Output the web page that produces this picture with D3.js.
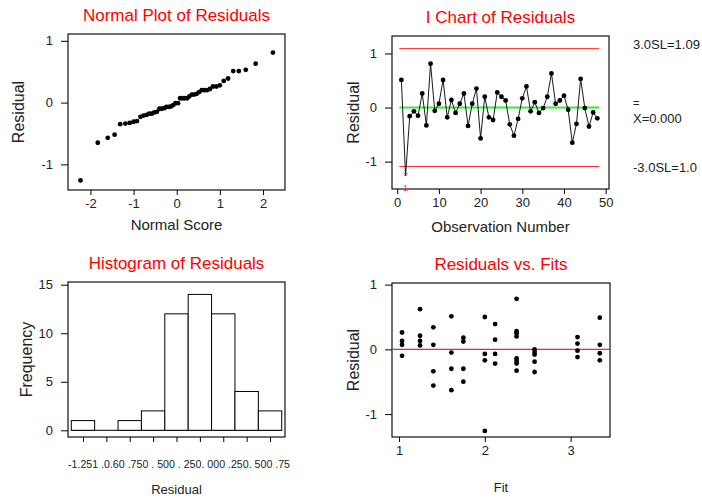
<!DOCTYPE html>
<head>
    <meta charset="utf-8">
    <title>Residual Plots</title>
    <script src='https://cdn.jsdelivr.net/npm/d3@7/dist/d3.min.js' charset="utf-8"></script>
</head>
<style>
    body { margin: 0; background: #fff; }
    svg { font-family: 'Liberation Sans', Arial, sans-serif; }
    .title { fill: #ff0000; font-size: 17px; text-anchor: middle; }
    .tick line { stroke: #000; }
    .tick text { font-size: 13px; fill: #222; }
    .domain { display: none; }
</style>
<body>
    <svg width="702" height="500"></svg>
</body>

<script>
    // residuals in observation order (I chart)
    var obsResiduals = [0.51, -1.26, -0.16, -0.07, -0.15, 0.26, -0.33, 0.81, -0.06, 0.07,
        0.51, -0.18, 0.14, -0.10, 0.07, 0.26, -0.34, 0.07, 0.35, -0.57,
        0.20, -0.18, -0.23, 0.28, 0.20, 0.13, -0.31, -0.52, -0.21, 0.17,
        0.39, -0.07, 0.10, -0.10, -0.01, 0.20, 0.63, 0.07, 0.13, 0.22,
        -0.04, -0.65, -0.30, 0.53, -0.01, -0.35, -0.09, -0.20];
    var flaggedObs = [2];

    // normal scores for the 48 ranks
    var normalScores = [-2.23, -1.83, -1.60, -1.44, -1.31, -1.19, -1.09, -1.00, -0.92, -0.84,
        -0.77, -0.70, -0.64, -0.58, -0.52, -0.46, -0.40, -0.35, -0.29, -0.24,
        -0.18, -0.13, -0.08, -0.03, 0.03, 0.08, 0.13, 0.18, 0.24, 0.29,
        0.35, 0.40, 0.46, 0.52, 0.58, 0.64, 0.70, 0.77, 0.84, 0.92,
        1.00, 1.09, 1.19, 1.31, 1.44, 1.60, 1.83, 2.23];

    // histogram
    var binMids = [-1.25, -1.00, -0.75, -0.50, -0.25, 0.00, 0.25, 0.50, 0.75];
    var binCounts = [1, 0, 1, 2, 12, 14, 12, 4, 2];
    var binWidth = 0.25;
    var histTickText = '-1.251 .0.60 .750 . 500 . 250. 000 .250. 500 .75';

    // residuals vs fits
    var fitValues = [1.035, 1.035, 1.035, 1.035,
        1.245, 1.245, 1.245, 1.245,
        1.40, 1.40, 1.40, 1.40,
        1.61, 1.61, 1.61, 1.61,
        1.75, 1.75, 1.75, 1.75,
        2.00, 2.00, 2.00, 2.00,
        2.12, 2.12, 2.12, 2.12,
        2.37, 2.37, 2.37, 2.37, 2.37, 2.37, 2.37, 2.37,
        2.58, 2.58, 2.58, 2.58, 2.58,
        3.08, 3.08, 3.08, 3.08,
        3.34, 3.34, 3.34, 3.34];
    var fitResiduals = [0.26, 0.13, 0.07, -0.10,
        0.62, 0.21, 0.13, 0.06,
        0.34, 0.07, -0.34, -0.56,
        0.51, -0.05, -0.30, -0.63,
        0.18, 0.12, -0.30, -0.50,
        0.50, -0.07, -0.17, -1.26,
        0.39, 0.15, -0.07, -0.22,
        0.78, 0.28, 0.25, 0.20, -0.14, -0.18, -0.22, -0.33,
        0.00, -0.04, -0.08, -0.19, -0.35,
        0.19, 0.09, -0.02, -0.12,
        0.49, 0.07, -0.06, -0.17];

    // control limits
    var ucl = 1.09, centre = 0.0, lcl = -1.09;
    var limitLabels = ['3.0SL=1.09', '=', 'X=0.000', '-3.0SL=1.0'];

    var svg = d3.select('svg');
    var plain = function (d) { return String(d); };   // hyphen minus, like the original

    // one framed panel with its axes and labels
    function panel(p) {
        var x = d3.scaleLinear().domain(p.xDomain).range([p.left, p.right]);
        var y = d3.scaleLinear().domain(p.yDomain).range([p.bottom, p.top]);
        var g = svg.append('g');

        g.append('text').attr('class', 'title')
            .attr('x', (p.left + p.right) / 2).attr('y', p.top - 13)
            .text(p.title);

        g.append('g').attr('transform', 'translate(0,' + p.bottom + ')')
            .call(d3.axisBottom(x).tickValues(p.xTicks).tickSize(5).tickPadding(4)
                .tickFormat(p.xFormat || plain));
        g.append('g').attr('transform', 'translate(' + p.left + ',0)')
            .call(d3.axisLeft(y).tickValues(p.yTicks).tickSize(7).tickPadding(8)
                .tickFormat(plain));

        g.append('rect')
            .attr('x', p.left).attr('y', p.top)
            .attr('width', p.right - p.left).attr('height', p.bottom - p.top)
            .attr('fill', 'none').attr('stroke', '#111').attr('stroke-width', 1.2);

        g.append('text')
            .attr('x', (p.left + p.right) / 2).attr('y', p.xLabelY)
            .attr('text-anchor', 'middle').attr('font-size', p.xLabelSize).attr('fill', '#222')
            .text(p.xLabel);
        g.append('text')
            .attr('transform', 'translate(' + p.yLabelX + ',' + (p.top + p.bottom) / 2 + ') rotate(-90)')
            .attr('text-anchor', 'middle').attr('font-size', 16).attr('fill', '#222')
            .text(p.yLabel);

        return {g: g, x: x, y: y};
    }

    // Normal plot
    var sorted = d3.sort(obsResiduals);
    var p1 = panel({left: 68, right: 285, top: 34, bottom: 190,
        xDomain: [-2.52, 2.51], yDomain: [-1.415, 1.11],
        xTicks: [-2, -1, 0, 1, 2], yTicks: [-1, 0, 1],
        title: 'Normal Plot of Residuals', xLabel: 'Normal Score', yLabel: 'Residual',
        xLabelY: 230, xLabelSize: 15, yLabelX: 24});
    p1.g.selectAll('circle').data(sorted).enter().append('circle')
        .attr('cx', function (d, i) { return p1.x(normalScores[i]); })
        .attr('cy', function (d) { return p1.y(d); })
        .attr('r', 2.4).attr('fill', '#000');

    // I chart
    var p2 = panel({left: 392, right: 609, top: 36, bottom: 189,
        xDomain: [-1.25, 50.8], yDomain: [-1.506, 1.323],
        xTicks: [0, 10, 20, 30, 40, 50], yTicks: [-1, 0, 1],
        title: 'I Chart of Residuals', xLabel: 'Observation Number', yLabel: 'Residual',
        xLabelY: 232, xLabelSize: 15, yLabelX: 359});
    [[ucl, '#ff3030', 1], [lcl, '#ff3030', 1], [centre, '#33ee33', 2]].forEach(function (l) {
        p2.g.append('line')
            .attr('x1', p2.x(0.5)).attr('x2', p2.x(48.5))
            .attr('y1', p2.y(l[0])).attr('y2', p2.y(l[0]))
            .attr('stroke', l[1]).attr('stroke-width', l[2]);
    });
    var obsPts = obsResiduals.map(function (d, i) { return {obs: i + 1, v: d}; });
    p2.g.append('path').datum(obsPts)
        .attr('fill', 'none').attr('stroke', '#000').attr('stroke-width', 0.9)
        .attr('d', d3.line().x(function (d) { return p2.x(d.obs); }).y(function (d) { return p2.y(d.v); }));
    p2.g.selectAll('circle')
        .data(obsPts.filter(function (d) { return flaggedObs.indexOf(d.obs) < 0; }))
        .enter().append('circle')
        .attr('cx', function (d) { return p2.x(d.obs); })
        .attr('cy', function (d) { return p2.y(d.v); })
        .attr('r', 2.4).attr('fill', '#000');
    flaggedObs.forEach(function (o) {
        var v = obsResiduals[o - 1];
        p2.g.append('text').attr('x', p2.x(o)).attr('y', p2.y(v) + 4.5)
            .attr('text-anchor', 'middle').attr('font-size', 11).attr('fill', '#ff0000').text('*');
        p2.g.append('text').attr('x', p2.x(o)).attr('y', p2.y(v) + 15)
            .attr('text-anchor', 'middle').attr('font-size', 9).attr('fill', '#ff4040').text('1');
    });
    var limY = [p2.y(ucl) - 4.5, p2.y(centre) - 4, p2.y(centre) + 10.5, p2.y(lcl) + 0.5];
    var limSize = [13, 11, 13, 13];
    limitLabels.forEach(function (t, i) {
        svg.append('text').attr('x', 633).attr('y', limY[i]).attr('dy', '0.35em')
            .attr('font-size', limSize[i]).attr('fill', '#222').text(t);
    });

    // Histogram
    var p3 = panel({left: 68, right: 285, top: 282, bottom: 437,
        xDomain: [-1.41, 0.91], yDomain: [-0.69, 15.28],
        xTicks: binMids, yTicks: [0, 5, 10, 15], xFormat: function () { return ''; },
        title: 'Histogram of Residuals', xLabel: 'Residual', yLabel: 'Frequency',
        xLabelY: 494, xLabelSize: 13, yLabelX: 32});
    p3.g.append('line')
        .attr('x1', p3.x(binMids[0] - binWidth / 2)).attr('x2', p3.x(binMids[binMids.length - 1] + binWidth / 2))
        .attr('y1', p3.y(0)).attr('y2', p3.y(0)).attr('stroke', '#000');
    p3.g.selectAll('rect.bar').data(binCounts).enter().append('rect').attr('class', 'bar')
        .attr('x', function (d, i) { return p3.x(binMids[i] - binWidth / 2); })
        .attr('width', function (d, i) { return p3.x(binMids[i] + binWidth / 2) - p3.x(binMids[i] - binWidth / 2); })
        .attr('y', function (d) { return p3.y(d); })
        .attr('height', function (d) { return p3.y(0) - p3.y(d); })
        .attr('fill', '#fff').attr('stroke', '#000').attr('stroke-width', 1);
    p3.g.append('text').attr('x', 179).attr('y', 468)
        .attr('text-anchor', 'middle').attr('font-size', 11).attr('fill', '#222')
        .attr('textLength', 222).attr('lengthAdjust', 'spacingAndGlyphs')
        .text(histTickText);

    // Residuals vs fits
    var p4 = panel({left: 392, right: 610, top: 283, bottom: 437,
        xDomain: [0.918, 3.459], yDomain: [-1.354, 1.025],
        xTicks: [1, 2, 3], yTicks: [-1, 0, 1],
        title: 'Residuals vs. Fits', xLabel: 'Fit', yLabel: 'Residual',
        xLabelY: 492, xLabelSize: 13, yLabelX: 359});
    p4.g.append('line')
        .attr('x1', p4.x.range()[0]).attr('x2', p4.x.range()[1])
        .attr('y1', p4.y(0)).attr('y2', p4.y(0)).attr('stroke', '#ff2020').attr('stroke-width', 1.3);
    p4.g.selectAll('circle').data(fitResiduals).enter().append('circle')
        .attr('cx', function (d, i) { return p4.x(fitValues[i]); })
        .attr('cy', function (d) { return p4.y(d); })
        .attr('r', 2.4).attr('fill', '#000');
</script>
